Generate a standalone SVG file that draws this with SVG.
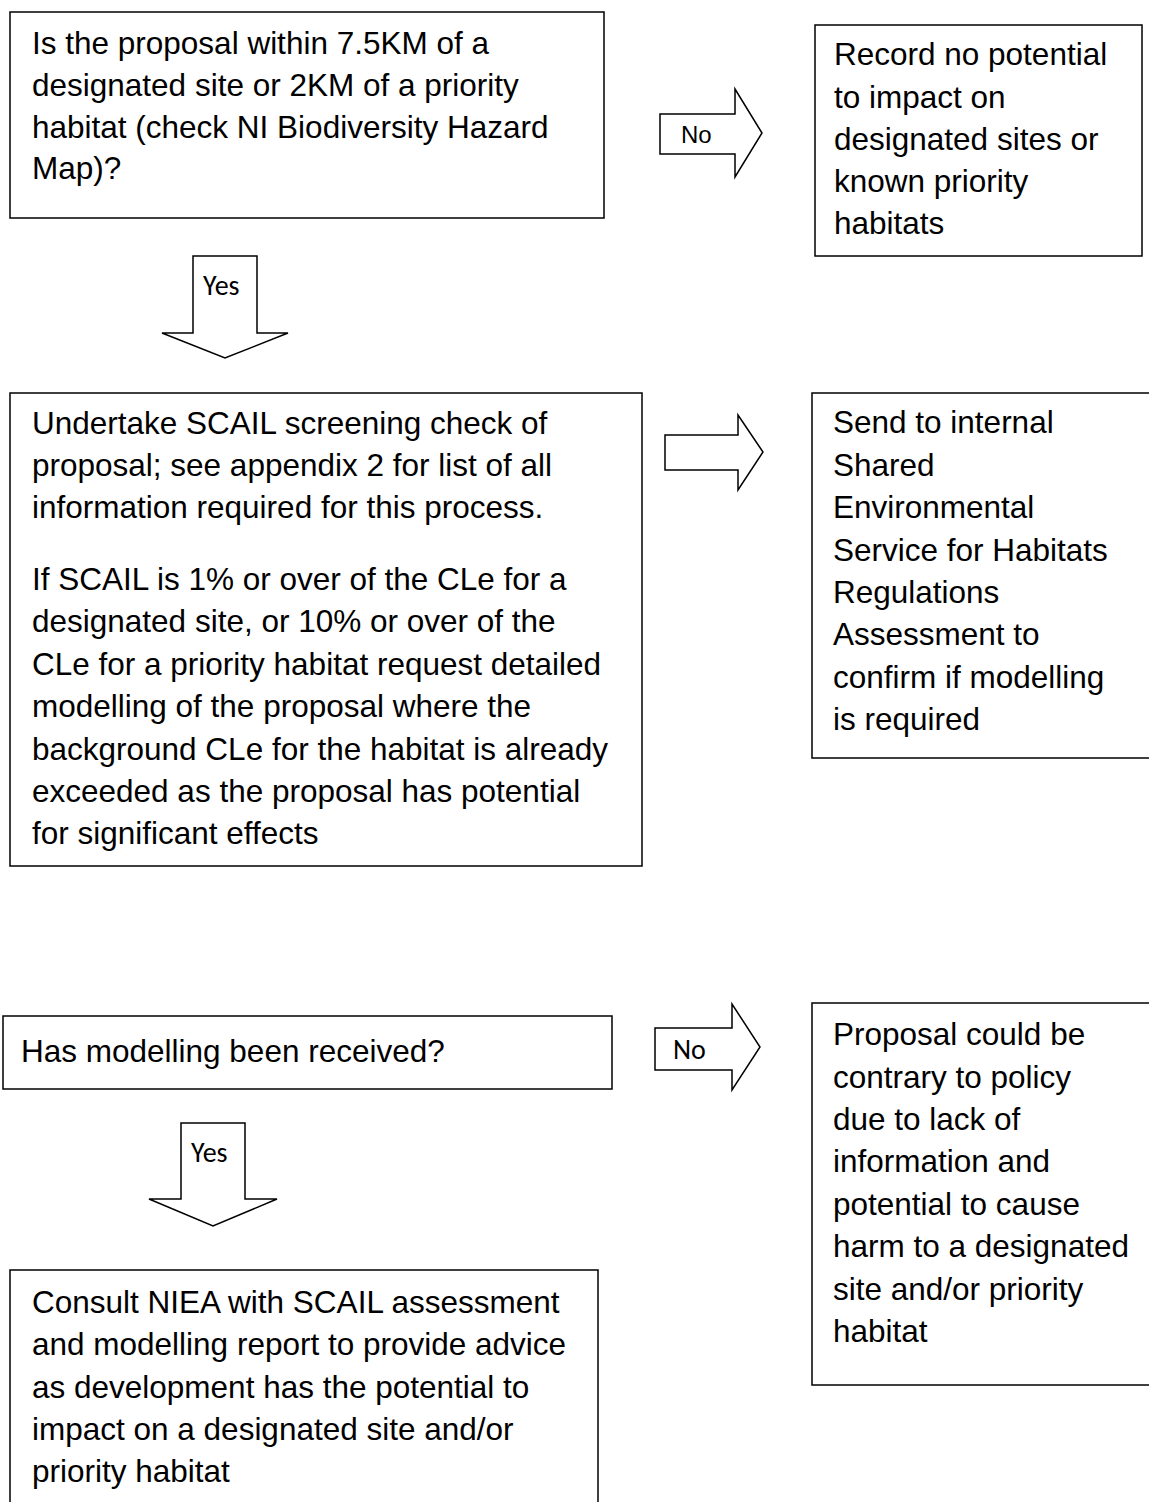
<svg xmlns="http://www.w3.org/2000/svg" width="1149" height="1502" viewBox="0 0 1149 1502">
<style>
.box{fill:#fff;stroke:#000;stroke-width:1.5}
.arr{fill:#fff;stroke:#000;stroke-width:1.5;stroke-linejoin:miter}
.t{font-family:"Liberation Sans",Arial,sans-serif;font-size:31.5px;fill:#000}
.lbl{font-family:Carlito,Calibri,Lato,"Open Sans",sans-serif;font-size:28px;fill:#000}
.lbla{font-family:"Liberation Sans",Arial,sans-serif;font-size:24px;fill:#000}
</style>
<rect width="1149" height="1502" fill="#fff"/>
<g id="connectors">
  <g id="arrow-no-1">
    <polygon class="arr" points="660,114 735,114 735,89 762,133 735,177 735,154 660,154"/>
    <text class="lbla" x="681" y="143">No</text>
  </g>
  <g id="arrow-yes-1">
    <polygon class="arr" points="193,256 257,256 257,333 288,333 225,358 162,333 193,333"/>
    <text class="lbl" x="203" y="295">Yes</text>
  </g>
  <g id="arrow-2">
    <polygon class="arr" points="665,435 738,435 738,415 763,452 738,490 738,470 665,470"/>
  </g>
  <g id="arrow-no-2">
    <polygon class="arr" points="655,1028 732,1028 732,1004 760,1047 732,1090 732,1070 655,1070"/>
    <text class="lbl" x="673" y="1059">No</text>
  </g>
  <g id="arrow-yes-2">
    <polygon class="arr" points="181,1123 245,1123 245,1199 277,1199 213,1226 149,1199 181,1199"/>
    <text class="lbl" x="191" y="1162">Yes</text>
  </g>
</g>
<g id="node-proximity">
  <rect class="box" x="10" y="12" width="594" height="206"/>
  <text class="t" x="32" y="54">Is the proposal within 7.5KM of a</text>
  <text class="t" x="32" y="96">designated site or 2KM of a priority</text>
  <text class="t" x="32" y="138">habitat (check NI Biodiversity Hazard</text>
  <text class="t" x="32" y="179">Map)?</text>
</g>
<g id="node-record">
  <rect class="box" x="815" y="25" width="327" height="231"/>
  <text class="t" x="834" y="65">Record no potential</text>
  <text class="t" x="834" y="108">to impact on</text>
  <text class="t" x="834" y="150">designated sites or</text>
  <text class="t" x="834" y="192">known priority</text>
  <text class="t" x="834" y="234">habitats</text>
</g>
<g id="node-scail">
  <rect class="box" x="10" y="393" width="632" height="473"/>
  <text class="t" x="32" y="434">Undertake SCAIL screening check of</text>
  <text class="t" x="32" y="476">proposal; see appendix 2 for list of all</text>
  <text class="t" x="32" y="518">information required for this process.</text>
  <text class="t" x="32" y="590">If SCAIL is 1% or over of the CLe for a</text>
  <text class="t" x="32" y="632">designated site, or 10% or over of the</text>
  <text class="t" x="32" y="675">CLe for a priority habitat request detailed</text>
  <text class="t" x="32" y="717">modelling of the proposal where the</text>
  <text class="t" x="32" y="760">background CLe for the habitat is already</text>
  <text class="t" x="32" y="802">exceeded as the proposal has potential</text>
  <text class="t" x="32" y="844">for significant effects</text>
</g>
<g id="node-send">
  <rect class="box" x="812" y="393" width="345" height="365"/>
  <text class="t" x="833" y="433">Send to internal</text>
  <text class="t" x="833" y="476">Shared</text>
  <text class="t" x="833" y="518">Environmental</text>
  <text class="t" x="833" y="561">Service for Habitats</text>
  <text class="t" x="833" y="603">Regulations</text>
  <text class="t" x="833" y="645">Assessment to</text>
  <text class="t" x="833" y="688">confirm if modelling</text>
  <text class="t" x="833" y="730">is required</text>
</g>
<g id="node-modelling">
  <rect class="box" x="3" y="1016" width="609" height="73"/>
  <text class="t" x="21" y="1062">Has modelling been received?</text>
</g>
<g id="node-contrary">
  <rect class="box" x="812" y="1003" width="345" height="382"/>
  <text class="t" x="833" y="1045">Proposal could be</text>
  <text class="t" x="833" y="1088">contrary to policy</text>
  <text class="t" x="833" y="1130">due to lack of</text>
  <text class="t" x="833" y="1172">information and</text>
  <text class="t" x="833" y="1215">potential to cause</text>
  <text class="t" x="833" y="1257">harm to a designated</text>
  <text class="t" x="833" y="1300">site and/or priority</text>
  <text class="t" x="833" y="1342">habitat</text>
</g>
<g id="node-consult">
  <rect class="box" x="10" y="1270" width="588" height="250"/>
  <text class="t" x="32" y="1313">Consult NIEA with SCAIL assessment</text>
  <text class="t" x="32" y="1355">and modelling report to provide advice</text>
  <text class="t" x="32" y="1398">as development has the potential to</text>
  <text class="t" x="32" y="1440">impact on a designated site and/or</text>
  <text class="t" x="32" y="1482">priority habitat</text>
</g>
</svg>
